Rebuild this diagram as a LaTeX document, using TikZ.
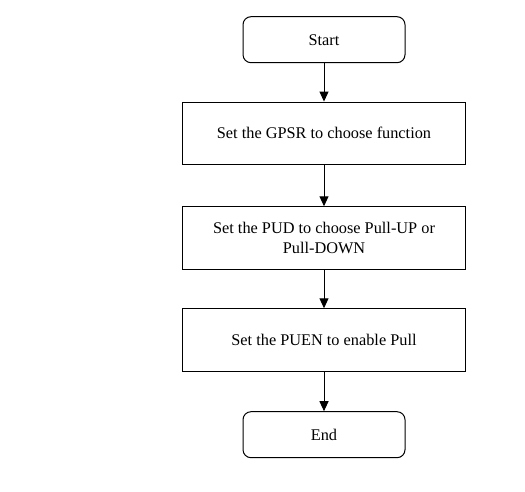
\documentclass[tikz,border=0pt]{standalone}
\usepackage{fontspec}
\setmainfont{Liberation Serif}
\usetikzlibrary{arrows.meta}
\begin{document}
\begin{tikzpicture}[x=1pt,y=-1pt,
  term/.style={draw, line width=1pt, rounded corners=8pt, minimum width=162pt, minimum height=46pt, inner sep=0pt, font=\fontsize{16.3}{20}\selectfont, align=center},
  proc/.style={draw, line width=1pt, minimum width=283pt, minimum height=62.5pt, inner sep=0pt, font=\fontsize{16.3}{20}\selectfont, align=center},
  flow/.style={line width=1pt, -{Triangle[length=10pt,width=9pt]}}]
\useasboundingbox (0,0) rectangle (525,491);
\node[term] (start) at (324,39.7) {Start};
\node[proc] (gpsr) at (324,133.3) {Set the GPSR to choose function};
\node[proc] (pud) at (324,238) {Set the PUD to choose Pull-UP or\\Pull-DOWN};
\node[proc] (puen) at (324,340) {Set the PUEN to enable Pull};
\node[term] (end) at (324,434.7) {End};
\draw[flow] (start.south) -- (gpsr.north);
\draw[flow] (gpsr.south) -- (pud.north);
\draw[flow] (pud.south) -- (puen.north);
\draw[flow] (puen.south) -- (end.north);
\end{tikzpicture}
\end{document}
